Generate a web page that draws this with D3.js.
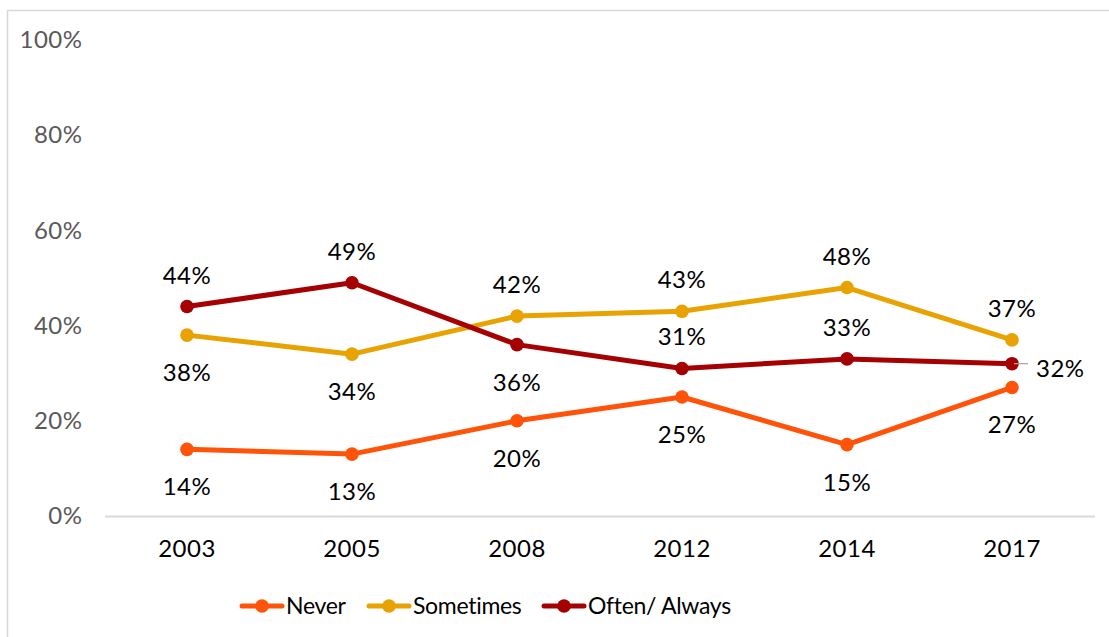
<!DOCTYPE html>
<html>
<head>
<meta charset="utf-8">
<script src="https://cdn.jsdelivr.net/npm/d3@7"></script>
<style>
  body { margin: 0; background: #fff; }
  svg { display: block; }
</style>
</head>
<body>
<div id="chart"></div>
<script>
const years = ["2003", "2005", "2008", "2012", "2014", "2017"];
const never = [14, 13, 20, 25, 15, 27];
const sometimes = [38, 34, 42, 43, 48, 37];
const oftenAlways = [44, 49, 36, 31, 33, 32];
const yTicks = [0, 20, 40, 60, 80, 100];

// label placement per point: "above", "below" or "right"
const neverPos = ["below", "below", "below", "below", "below", "below"];
const sometimesPos = ["below", "below", "above", "above", "above", "above"];
const oftenPos = ["above", "above", "below", "above", "above", "right"];

const series = [
  { name: "Never", values: never, pos: neverPos, color: "#FF5309" },
  { name: "Sometimes", values: sometimes, pos: sometimesPos, color: "#E8A202" },
  { name: "Often/ Always", values: oftenAlways, pos: oftenPos, color: "#A50002" },
];

const FONT = "'Century Gothic', 'Lato', 'Noto Sans', sans-serif";
const FONT_SIZE = 24;
const width = 1109;
const height = 637;
const margin = { top: 40, right: 14.5, bottom: 121, left: 104.5 };

const svg = d3.select("#chart")
  .append("svg")
  .attr("width", width)
  .attr("height", height)
  .attr("font-family", FONT);

// chart area border (runs off the right and bottom edges)
svg.append("rect")
  .attr("x", 7.5)
  .attr("y", 10.5)
  .attr("width", width + 20)
  .attr("height", height + 20)
  .attr("fill", "none")
  .attr("stroke", "#d9d9d9")
  .attr("stroke-width", 1.5);

const x = d3.scaleBand()
  .domain(years)
  .range([margin.left, width - margin.right]);

const y = d3.scaleLinear()
  .domain([0, 100])
  .range([height - margin.bottom, margin.top]);

const cx = d => x(d) + x.bandwidth() / 2;

// y axis labels (no axis line)
const yAxis = svg.append("g")
  .attr("transform", `translate(${margin.left - 22},0)`)
  .call(d3.axisLeft(y).tickValues(yTicks).tickSize(0).tickPadding(0).tickFormat(d => d + "%"));
yAxis.select(".domain").remove();
yAxis.selectAll("text")
  .attr("font-family", FONT)
  .attr("font-size", FONT_SIZE)
  .attr("letter-spacing", 0.5)
  .attr("fill", "#595959");

// x axis
const xAxis = svg.append("g")
  .attr("transform", `translate(0,${y(0)})`)
  .call(d3.axisBottom(x).tickSize(0).tickPadding(24));
xAxis.select(".domain")
  .attr("stroke", "#d9d9d9")
  .attr("stroke-width", 2);
xAxis.selectAll("text")
  .attr("font-family", FONT)
  .attr("font-size", FONT_SIZE)
  .attr("letter-spacing", 0.5)
  .attr("fill", "#000");

const line = d3.line()
  .x((d, i) => cx(years[i]))
  .y(d => y(d));

const seriesGroups = svg.append("g")
  .selectAll("g")
  .data(series)
  .join("g");

seriesGroups.append("path")
  .attr("d", d => line(d.values))
  .attr("fill", "none")
  .attr("stroke", d => d.color)
  .attr("stroke-width", 5)
  .attr("stroke-linejoin", "round");

seriesGroups.selectAll("circle")
  .data(d => d.values.map(v => ({ v, color: d.color })))
  .join("circle")
  .attr("cx", (d, i) => cx(years[i]))
  .attr("cy", d => y(d.v))
  .attr("r", 6.8)
  .attr("fill", d => d.color);

// data labels
const labelData = series.flatMap(s =>
  s.values.map((v, i) => ({ v, year: years[i], pos: s.pos[i] }))
);

const labels = svg.append("g")
  .attr("font-size", FONT_SIZE)
  .attr("letter-spacing", 0.5)
  .attr("fill", "#000");

labels.selectAll("text")
  .data(labelData)
  .join("text")
  .attr("x", d => d.pos === "right" ? cx(d.year) + 24 : cx(d.year))
  .attr("y", d => {
    if (d.pos === "above") return y(d.v) - 23;
    if (d.pos === "below") return y(d.v) + 46;
    return y(d.v) + 13;
  })
  .attr("text-anchor", d => d.pos === "right" ? "start" : "middle")
  .text(d => d.v + "%");

// leader line for the right-hand label
labels.selectAll("line")
  .data(labelData.filter(d => d.pos === "right"))
  .join("line")
  .attr("x1", d => cx(d.year) + 2)
  .attr("x2", d => cx(d.year) + 16)
  .attr("y1", d => y(d.v))
  .attr("y2", d => y(d.v))
  .attr("stroke", "#a6a6a6")
  .attr("stroke-width", 1.2);

// legend
const legendY = 606;
const legendX = [242, 369, 544];
const legend = svg.append("g")
  .selectAll("g")
  .data(series)
  .join("g")
  .attr("transform", (d, i) => `translate(${legendX[i]},${legendY})`);

legend.append("line")
  .attr("x1", 0)
  .attr("x2", 40)
  .attr("stroke", d => d.color)
  .attr("stroke-width", 5)
  .attr("stroke-linecap", "round");

legend.append("circle")
  .attr("cx", 20)
  .attr("r", 6.8)
  .attr("fill", d => d.color);

legend.append("text")
  .attr("x", 44)
  .attr("y", 8)
  .attr("font-size", 23)
  .attr("letter-spacing", -0.3)
  .attr("fill", "#000")
  .text(d => d.name);
</script>
</body>
</html>
